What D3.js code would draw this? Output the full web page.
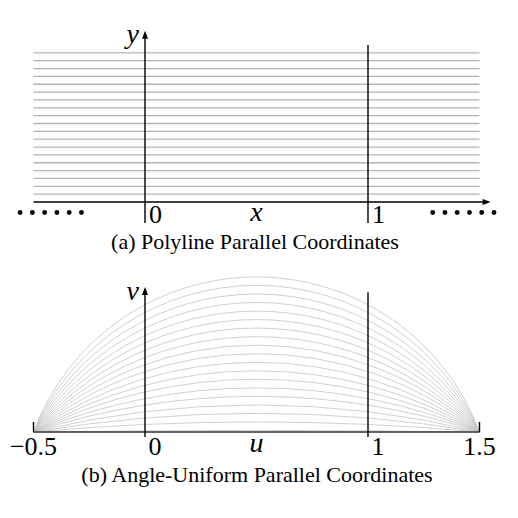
<!DOCTYPE html>
<html>
<head>
<meta charset="utf-8">
<script src="https://cdn.jsdelivr.net/npm/d3@7"></script>
<style>
  body { margin: 0; background: #fff; }
</style>
</head>
<body>
<div id="chart"></div>
<script>
// values of the horizontal polylines (top panel, same value on both axes)
var lineValues = [0.05, 0.10, 0.15, 0.20, 0.25, 0.30, 0.35, 0.40, 0.45, 0.50,
                  0.55, 0.60, 0.65, 0.70, 0.75, 0.80, 0.85, 0.90, 0.95];
// peak heights of the angle-uniform arcs (bottom panel)
var arcPeaks = [0.010, 0.064, 0.118, 0.172, 0.227, 0.281, 0.336, 0.390, 0.444, 0.499,
                0.553, 0.607, 0.662, 0.716, 0.770, 0.825, 0.879, 0.934, 0.988];
var arcEnds = [-0.5, 1.5];
var topTicks = [0, 1];
var topTickLabels = ["0", "1"];
var bottomTicks = [-0.5, 0, 1, 1.5];
var bottomTickLabels = ["\u22120.5", "0", "1", "1.5"];
var captions = ["(a) Polyline Parallel Coordinates", "(b) Angle-Uniform Parallel Coordinates"];

var width = 518, height = 518;
var serif = "'Liberation Serif', 'Times New Roman', Times, 'DejaVu Serif', serif";

var svg = d3.select("#chart")
    .append("svg")
    .attr("width", width)
    .attr("height", height)
    .attr("font-family", serif);

// shared horizontal scale, 1 unit between the two axes
var x = d3.scaleLinear().domain([0, 1]).range([145, 368]);

// ---------- (a) polyline ----------
var yTop = d3.scaleLinear().domain([0, 1]).range([202, 45]);
var gTop = svg.append("g");

gTop.selectAll("line.poly")
    .data(lineValues)
    .enter()
    .append("line")
    .attr("class", "poly")
    .attr("x1", x(-0.5))
    .attr("x2", x(1.5))
    .attr("y1", d => yTop(d))
    .attr("y2", d => yTop(d))
    .attr("stroke", "#b4b4b4")
    .attr("stroke-width", 1.3);

// baseline with arrow
gTop.append("line")
    .attr("x1", x(-0.5)).attr("x2", x(1.55) - 6)
    .attr("y1", yTop(0)).attr("y2", yTop(0))
    .attr("stroke", "#000").attr("stroke-width", 1.4);
arrow(gTop, x(1.55), yTop(0), "right");

// axis 0 (with arrow) and axis 1
gTop.append("line")
    .attr("x1", x(0)).attr("x2", x(0))
    .attr("y1", yTop(0) + 21).attr("y2", yTop(1.09) + 6)
    .attr("stroke", "#000").attr("stroke-width", 1.4);
arrow(gTop, x(0), yTop(1.09), "up");
gTop.append("line")
    .attr("x1", x(1)).attr("x2", x(1))
    .attr("y1", yTop(0) + 21).attr("y2", yTop(1))
    .attr("stroke", "#000").attr("stroke-width", 1.4);

gTop.selectAll("text.tick")
    .data(topTicks)
    .enter()
    .append("text")
    .attr("class", "tick")
    .attr("x", d => x(d) + 4)
    .attr("y", yTop(0) + 21)
    .attr("font-size", 26)
    .text((d, i) => topTickLabels[i]);

gTop.append("text").attr("x", x(0.5)).attr("y", yTop(0) + 19)
    .attr("text-anchor", "middle").attr("font-size", 28).attr("font-style", "italic").text("x");
gTop.append("text").attr("x", x(0) - 6).attr("y", 43)
    .attr("text-anchor", "end").attr("font-size", 28).attr("font-style", "italic").text("y");

// dots standing for the other axes
gTop.selectAll("circle.dot")
    .data([-0.56, -0.505, -0.45, -0.395, -0.34, -0.285, 1.29, 1.345, 1.40, 1.455, 1.51, 1.565])
    .enter()
    .append("circle")
    .attr("class", "dot")
    .attr("cx", d => x(d))
    .attr("cy", yTop(0) + 10.5)
    .attr("r", 2.4)
    .attr("fill", "#000");

svg.append("text").attr("x", 255).attr("y", 249)
    .attr("text-anchor", "middle").attr("font-size", 22).text(captions[0]);

// ---------- (b) angle-uniform ----------
var yBot = d3.scaleLinear().domain([0, 1]).range([432, 275]);
var gBot = svg.append("g");

gBot.selectAll("path.arc")
    .data(arcPeaks)
    .enter()
    .append("path")
    .attr("class", "arc")
    .attr("d", function(d) {
        var x0 = x(arcEnds[0]), x1 = x(arcEnds[1]);
        var a = (x1 - x0) / 2;
        var h = yBot(0) - yBot(d);
        var r = (a * a + h * h) / (2 * h);
        return "M" + x0 + "," + yBot(0) + " A" + r + "," + r + " 0 0 1 " + x1 + "," + yBot(0);
    })
    .attr("fill", "none")
    .attr("stroke", "#c4c4c4")
    .attr("stroke-width", 0.8);

gBot.append("line")
    .attr("x1", x(-0.5)).attr("x2", x(1.5))
    .attr("y1", yBot(0)).attr("y2", yBot(0))
    .attr("stroke", "#333").attr("stroke-width", 1.4);
gBot.selectAll("line.end")
    .data(arcEnds)
    .enter()
    .append("line")
    .attr("class", "end")
    .attr("x1", d => x(d)).attr("x2", d => x(d))
    .attr("y1", yBot(0)).attr("y2", yBot(0) - 10)
    .attr("stroke", "#000").attr("stroke-width", 1.4);

gBot.append("line")
    .attr("x1", x(0)).attr("x2", x(0))
    .attr("y1", yBot(0) + 5).attr("y2", yBot(0.924) + 6)
    .attr("stroke", "#000").attr("stroke-width", 1.4);
arrow(gBot, x(0), yBot(0.924), "up");
gBot.append("line")
    .attr("x1", x(1)).attr("x2", x(1))
    .attr("y1", yBot(0) + 5).attr("y2", yBot(0.89))
    .attr("stroke", "#000").attr("stroke-width", 1.4);

gBot.selectAll("text.tick")
    .data(bottomTicks)
    .enter()
    .append("text")
    .attr("class", "tick")
    .attr("x", d => (d === 0 || d === 1) ? x(d) + 10 : x(d))
    .attr("y", yBot(0) + 23)
    .attr("text-anchor", "middle")
    .attr("font-size", 26)
    .text((d, i) => bottomTickLabels[i]);

gBot.append("text").attr("x", x(0.5)).attr("y", yBot(0) + 20)
    .attr("text-anchor", "middle").attr("font-size", 28).attr("font-style", "italic").text("u");
gBot.append("text").attr("x", x(0) - 6).attr("y", 300)
    .attr("text-anchor", "end").attr("font-size", 28).attr("font-style", "italic").text("v");

svg.append("text").attr("x", 257).attr("y", 482)
    .attr("text-anchor", "middle").attr("font-size", 22).text(captions[1]);

function arrow(g, tx, ty, dir) {
    var p = dir === "up"
        ? [[tx, ty], [tx - 3, ty + 8], [tx + 3, ty + 8]]
        : [[tx, ty], [tx - 8, ty - 3], [tx - 8, ty + 3]];
    g.append("path")
        .attr("d", "M" + p.map(q => q.join(",")).join("L") + "Z")
        .attr("fill", "#000");
}
</script>
</body>
</html>
